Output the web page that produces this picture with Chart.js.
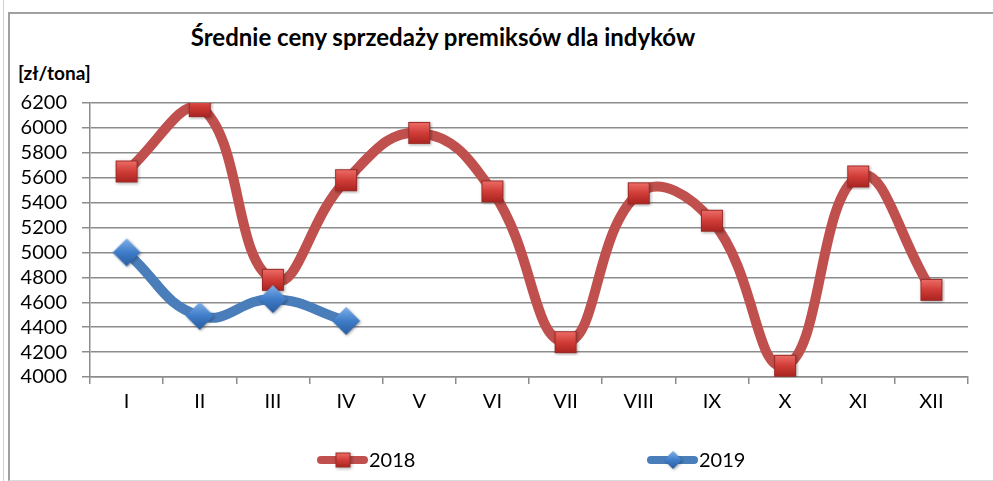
<!DOCTYPE html>
<html>
<head>
<meta charset="utf-8">
<script src="https://cdn.jsdelivr.net/npm/chart.js@4"></script>
<style>
  html, body { margin: 0; padding: 0; background: #fff; }
  #wrap { position: relative; width: 993px; height: 481px; overflow: hidden; font-family: Lato, "Noto Sans", sans-serif; }
  #outer { position: absolute; left: 3px; top: 0; width: 990px; height: 481px; border-left: 1px solid #d0d0d0; box-sizing: border-box; }
  #frame { position: absolute; left: 8px; top: 12px; width: 985px; height: 469px; border-left: 2px solid #a0a0a0; border-top: 2px solid #a0a0a0; border-bottom: 1px solid #dadada; box-sizing: border-box; }
  #title { position: absolute; left: 0; width: 886px; top: 22px; text-align: center; font-weight: bold; font-size: 24px; line-height: 30px; color: #000; white-space: nowrap; }
  #unit { position: absolute; left: 18px; top: 61px; font-weight: bold; font-size: 19px; line-height: 24px; color: #000; }
  canvas { position: absolute; left: 0; top: 0; }
</style>
</head>
<body>
<div id="wrap">
  <div id="outer"></div>
  <div id="frame"></div>
  <div id="title">Średnie ceny sprzedaży premiksów dla indyków</div>
  <div id="unit">[zł/tona]</div>
  <canvas id="chart" width="993" height="481"></canvas>
</div>
<script>
const miesiace = ['I', 'II', 'III', 'IV', 'V', 'VI', 'VII', 'VIII', 'IX', 'X', 'XI', 'XII'];
const ceny2018 = [5650, 6175, 4780, 5580, 5960, 5490, 4280, 5475, 5255, 4090, 5610, 4700];
const ceny2019 = [5000, 4490, 4625, 4450, null, null, null, null, null, null, null, null];
const yMin = 4000;
const yMax = 6200;
const yKrok = 200;

// znaczniki z gradientem jak w Excelu
function kwadrat(size) {
  const c = document.createElement('canvas');
  c.width = size + 6; c.height = size + 6;
  const g = c.getContext('2d');
  g.shadowColor = 'rgba(0,0,0,0.35)';
  g.shadowBlur = 3; g.shadowOffsetX = 1; g.shadowOffsetY = 1;
  const gr = g.createLinearGradient(0, 3, 0, size + 3);
  gr.addColorStop(0, '#ee6f6a');
  gr.addColorStop(0.5, '#d13d38');
  gr.addColorStop(1, '#a8231f');
  g.fillStyle = gr;
  g.fillRect(3, 3, size, size);
  g.shadowColor = 'transparent';
  g.strokeStyle = '#9a2a27';
  g.lineWidth = 1;
  g.strokeRect(3.5, 3.5, size - 1, size - 1);
  return c;
}

function romb(size) {
  const c = document.createElement('canvas');
  c.width = size + 6; c.height = size + 6;
  const g = c.getContext('2d');
  const m = (size + 6) / 2, r = size / 2;
  g.shadowColor = 'rgba(0,0,0,0.35)';
  g.shadowBlur = 3; g.shadowOffsetX = 1; g.shadowOffsetY = 1;
  const gr = g.createLinearGradient(0, m - r, 0, m + r);
  gr.addColorStop(0, '#7fb0ea');
  gr.addColorStop(0.5, '#3f7cc8');
  gr.addColorStop(1, '#2a5c9e');
  g.fillStyle = gr;
  g.beginPath();
  g.moveTo(m, m - r); g.lineTo(m + r, m); g.lineTo(m, m + r); g.lineTo(m - r, m);
  g.closePath();
  g.fill();
  return c;
}

const znak2018 = kwadrat(22);
const znak2019 = romb(28);
const znak2018maly = kwadrat(15);
const znak2019maly = romb(18);

const legendaPlugin = {
  id: 'legendaExcel',
  afterDraw(chart) {
    const ctx = chart.ctx;
    const a = chart.chartArea;
    const items = [
      { label: '2018', color: '#c0504d', img: znak2018maly, x: a.left + 227 },
      { label: '2019', color: '#4a7ebb', img: znak2019maly, x: a.left + 557 }
    ];
    const y = 460;
    ctx.save();
    items.forEach(it => {
      ctx.strokeStyle = it.color;
      ctx.lineWidth = 8;
      ctx.lineCap = 'round';
      ctx.beginPath();
      ctx.moveTo(it.x + 4, y);
      ctx.lineTo(it.x + 47, y);
      ctx.stroke();
      ctx.drawImage(it.img, it.x + 26 - it.img.width / 2, y - it.img.height / 2);
      ctx.fillStyle = '#000';
      ctx.font = '20px Lato, "Noto Sans", sans-serif';
      ctx.textBaseline = 'middle';
      ctx.fillText(it.label, it.x + 52, y + 1);
    });
    ctx.restore();
  }
};

new Chart(document.getElementById('chart'), {
  type: 'line',
  data: {
    labels: miesiace,
    datasets: [
      {
        label: '2018', data: ceny2018, order: 1,
        borderColor: '#c0504d', borderWidth: 10, tension: 0.45,
        pointStyle: znak2018, pointRadius: 11, pointHoverRadius: 11
      },
      {
        label: '2019', data: ceny2019, order: 0,
        borderColor: '#4a7ebb', borderWidth: 10, tension: 0.45,
        pointStyle: znak2019, pointRadius: 14, pointHoverRadius: 14
      }
    ]
  },
  options: {
    responsive: false,
    animation: false,
    layout: { padding: { left: 10, right: 25, top: 103, bottom: 54 } },
    plugins: { legend: { display: false }, tooltip: { enabled: false }, title: { display: false } },
    scales: {
      x: {
        offset: true,
        grid: { offset: true, drawOnChartArea: false, drawTicks: true, tickLength: 7, color: '#8c8c8c', lineWidth: 1.5 },
        border: { color: '#8c8c8c', width: 1.5 },
        ticks: { color: '#000', font: { family: 'Lato', size: 20 }, padding: 6, maxRotation: 0, autoSkip: false },
        afterFit(s) { s.height = 50; }
      },
      y: {
        min: yMin, max: yMax,
        grid: { color: '#8c8c8c', lineWidth: 1.5, tickLength: 8 },
        border: { color: '#8c8c8c', width: 1.5 },
        ticks: {
          stepSize: yKrok, color: '#000', font: { family: 'Lato', size: 20 }, padding: 15,
          autoSkip: false, callback: v => String(v)
        },
        afterFit(s) { s.width = 80; }
      }
    }
  },
  plugins: [legendaPlugin]
});
</script>
</body>
</html>
